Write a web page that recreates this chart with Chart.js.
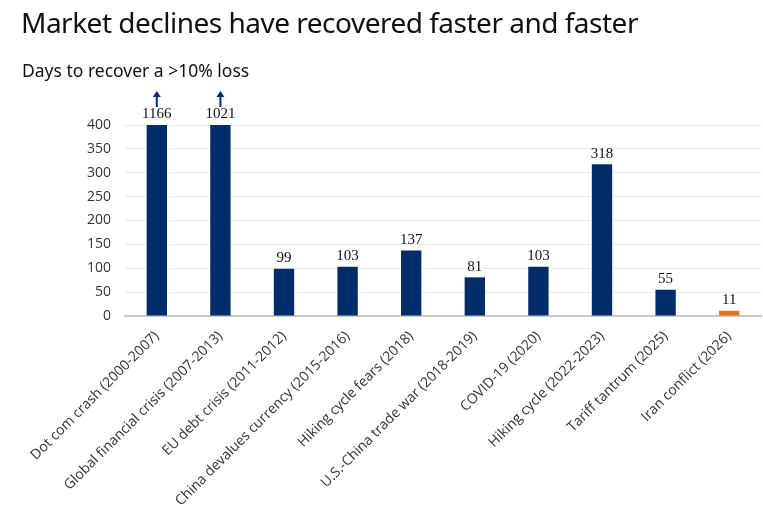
<!DOCTYPE html>
<html>
<head>
<meta charset="utf-8">
<script src="https://cdn.jsdelivr.net/npm/chart.js@4"></script>
<style>
  body { margin: 0; background: #fff; }
  #wrap { position: relative; width: 763px; height: 512px; }
  #title { position: absolute; left: 21px; top: 3px; font-family: 'Noto Sans', sans-serif; font-size: 28px; letter-spacing: -0.5px; color: #111; white-space: nowrap; }
  #subtitle { position: absolute; left: 22px; top: 58px; font-family: 'Noto Sans', sans-serif; font-size: 17.5px; color: #111; white-space: nowrap; }
  canvas { position: absolute; left: 0; top: 0; }
</style>
</head>
<body>
<div id="wrap">
  <canvas id="chart" width="763" height="512"></canvas>
  <div id="title">Market declines have recovered faster and faster</div>
  <div id="subtitle">Days to recover a &gt;10% loss</div>
</div>
<script>
const categories = [
  'Dot com crash (2000-2007)',
  'Global financial crisis (2007-2013)',
  'EU debt crisis (2011-2012)',
  'China devalues currency (2015-2016)',
  'Hiking cycle fears (2018)',
  'U.S.-China trade war (2018-2019)',
  'COVID-19 (2020)',
  'Hiking cycle (2022-2023)',
  'Tariff tantrum (2025)',
  'Iran conflict (2026)'
];
const daysToRecover = [1166, 1021, 99, 103, 137, 81, 103, 318, 55, 11];
const axisMax = 400;
const yTicks = [0, 50, 100, 150, 200, 250, 300, 350, 400];

const navy = '#022d6b';
const orange = '#e2741b';
const barColors = daysToRecover.map((v, i) => i === daysToRecover.length - 1 ? orange : navy);

// bars above the axis max are cut at the top and get an arrow
const plotted = daysToRecover.map(v => Math.min(v, axisMax));

const labelPlugin = {
  id: 'valueLabels',
  afterDatasetsDraw(chart) {
    const ctx = chart.ctx;
    const meta = chart.getDatasetMeta(0);
    ctx.save();
    ctx.font = '15px "Liberation Serif", serif';
    ctx.textAlign = 'center';
    ctx.textBaseline = 'bottom';
    meta.data.forEach((bar, i) => {
      const top = bar.y;
      ctx.fillStyle = '#111';
      ctx.fillText(String(daysToRecover[i]), bar.x, top - 3);
      if (daysToRecover[i] > axisMax) {
        ctx.strokeStyle = navy;
        ctx.fillStyle = navy;
        ctx.lineWidth = 2;
        ctx.beginPath();
        ctx.moveTo(bar.x, top - 18);
        ctx.lineTo(bar.x, top - 29);
        ctx.stroke();
        ctx.beginPath();
        ctx.moveTo(bar.x - 4, top - 28);
        ctx.lineTo(bar.x + 4, top - 28);
        ctx.lineTo(bar.x, top - 34);
        ctx.closePath();
        ctx.fill();
      }
    });
    ctx.restore();
  }
};

new Chart(document.getElementById('chart').getContext('2d'), {
  type: 'bar',
  data: {
    labels: categories,
    datasets: [{
      data: plotted,
      backgroundColor: barColors,
      barPercentage: 0.32,
      categoryPercentage: 1
    }]
  },
  options: {
    responsive: false,
    animation: false,
    layout: { padding: { top: 125, right: 2, left: 0, bottom: 0 } },
    plugins: { legend: { display: false }, tooltip: { enabled: false } },
    scales: {
      x: {
        grid: { display: false, drawTicks: false },
        border: { color: '#c8c8c8', width: 2 },
        ticks: {
          color: '#333',
          font: { family: '"Open Sans", sans-serif', size: 14 },
          maxRotation: 45,
          minRotation: 45,
          autoSkip: false,
          padding: 12
        },
        afterFit(scale) { scale.height = 196; }
      },
      y: {
        min: 0,
        max: axisMax,
        afterBuildTicks(scale) { scale.ticks = yTicks.map(v => ({ value: v })); },
        grid: { color: '#ececec', drawTicks: false },
        border: { display: false },
        ticks: {
          color: '#333',
          font: { family: '"Open Sans", sans-serif', size: 14 },
          padding: 14
        },
        afterFit(scale) { scale.width = 125; }
      }
    }
  },
  plugins: [labelPlugin]
});
</script>
</body>
</html>
